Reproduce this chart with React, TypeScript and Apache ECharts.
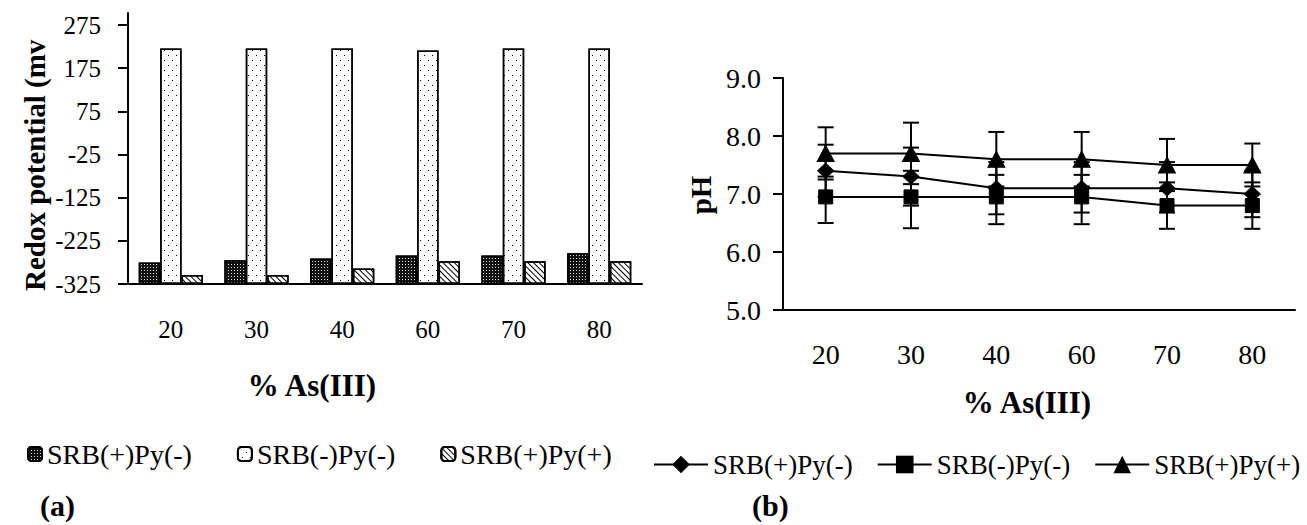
import React, { useEffect, useRef } from "react";
import * as echarts from "echarts";

// ---------- data ----------
const categories = ["20", "30", "40", "60", "70", "80"];
const seriesNames = ["SRB(+)Py(-)", "SRB(-)Py(-)", "SRB(+)Py(+)"];

// (a) Redox potential (mV)
const redoxBase = -325;
const redoxTicks = [-325, -225, -125, -25, 75, 175, 275];
const redoxSrbPosPyNeg = [-275, -270, -266, -259, -259, -254];
const redoxSrbNegPyNeg = [221, 221, 221, 216, 221, 221];
const redoxSrbPosPyPos = [-304, -304, -289, -272, -272, -272];

// (b) pH with error bars (low / high ends)
const phSrbPosPyNeg = [7.4, 7.3, 7.1, 7.1, 7.1, 7.0];
const phSrbPosPyNegLow = [6.95, 6.8, 6.65, 6.68, 6.68, 6.6];
const phSrbPosPyNegHigh = [7.85, 7.8, 7.55, 7.55, 7.55, 7.4];
const phSrbNegPyNeg = [6.95, 6.95, 6.95, 6.95, 6.8, 6.8];
const phSrbNegPyNegLow = [6.5, 6.41, 6.48, 6.48, 6.4, 6.4];
const phSrbNegPyNegHigh = [7.3, 7.4, 7.33, 7.33, 7.2, 7.2];
const phSrbPosPyPos = [7.7, 7.7, 7.6, 7.6, 7.5, 7.5];
const phSrbPosPyPosLow = [7.25, 7.17, 7.13, 7.13, 7.05, 7.13];
const phSrbPosPyPosHigh = [8.15, 8.23, 8.07, 8.07, 7.95, 7.87];

const FONT = '"Liberation Serif", "Times New Roman", serif';
const BLACK = "#000";

function buildOption() {
  const shift = (arr: number[]) => arr.map((v) => v - redoxBase);
  const errData: number[][] = [];
  const lows = [phSrbPosPyNegLow, phSrbNegPyNegLow, phSrbPosPyPosLow];
  const highs = [phSrbPosPyNegHigh, phSrbNegPyNegHigh, phSrbPosPyPosHigh];
  lows.forEach((lo, s) => lo.forEach((v, i) => errData.push([i, v, highs[s][i]])));

  const barBorder = { borderColor: BLACK, borderWidth: 1.5 };
  const barStyles = [
    {
      color: "#111",
      ...barBorder,
      decal: { symbol: "rect", symbolSize: 1, color: "rgba(255,255,255,0.85)", dashArrayX: [1, 2], dashArrayY: [1, 2] },
    },
    {
      color: "#fff",
      ...barBorder,
      decal: { symbol: "rect", symbolSize: 1, color: BLACK, dashArrayX: [[1, 7], [0, 4, 1, 3]], dashArrayY: [1, 4] },
    },
    {
      color: "#fff",
      ...barBorder,
      decal: { symbol: "rect", symbolSize: 1, color: BLACK, dashArrayX: [1, 0], dashArrayY: [1, 2.5], rotation: Math.PI / 4 },
    },
  ];
  const barValues = [redoxSrbPosPyNeg, redoxSrbNegPyNeg, redoxSrbPosPyPos];

  const lineValues = [phSrbPosPyNeg, phSrbNegPyNeg, phSrbPosPyPos];
  const lineSymbols = ["diamond", "rect", "triangle"];
  const lineSymbolSizes = [[16, 15], [14, 14], [17, 16]];

  const axisLineStyle = { color: BLACK, width: 2 };
  const tickStyle = { color: BLACK, width: 2 };

  return {
    animation: false,
    backgroundColor: "#fff",
    grid: [
      { left: 128, top: 13, width: 514, height: 271 },
      { left: 783, top: 78, width: 512, height: 232 },
    ],
    xAxis: [
      {
        gridIndex: 0, type: "category", data: categories, position: "bottom",
        axisLine: { lineStyle: axisLineStyle },
        axisTick: { length: 10, lineStyle: tickStyle },
        axisLabel: { margin: 33, fontSize: 25, color: BLACK, fontFamily: FONT },
        splitLine: { show: false },
      },
      {
        gridIndex: 0, type: "category", data: categories, position: "bottom",
        axisLine: { show: false },
        axisTick: { alignWithLabel: true, length: 7, lineStyle: tickStyle },
        axisLabel: { show: false },
      },
      {
        gridIndex: 1, type: "category", data: categories, position: "bottom",
        axisLine: { lineStyle: axisLineStyle },
        axisTick: { length: 9, lineStyle: tickStyle },
        axisLabel: { margin: 30, fontSize: 28, color: BLACK, fontFamily: FONT },
        splitLine: { show: false },
      },
      {
        gridIndex: 1, type: "category", data: categories, position: "bottom",
        axisLine: { show: false },
        axisTick: { alignWithLabel: true, length: 9, lineStyle: tickStyle },
        axisLabel: { show: false },
      },
    ],
    yAxis: [
      {
        gridIndex: 0, type: "value", min: 0, max: 628,
        axisLine: { show: true, lineStyle: axisLineStyle },
        axisTick: { show: true, length: 10, lineStyle: tickStyle, customValues: shift(redoxTicks) },
        axisLabel: {
          customValues: shift(redoxTicks),
          formatter: (v: number) => String(Math.round(v + redoxBase)),
          margin: 27, fontSize: 25, color: BLACK, fontFamily: FONT,
        },
        splitLine: { show: false },
      },
      {
        gridIndex: 1, type: "value", min: 5, max: 9, interval: 1,
        axisLine: { show: true, lineStyle: axisLineStyle },
        axisTick: { show: true, length: 10, lineStyle: tickStyle },
        axisLabel: {
          formatter: (v: number) => v.toFixed(1),
          margin: 22, fontSize: 28, color: BLACK, fontFamily: FONT,
        },
        splitLine: { show: false },
      },
    ],
    legend: [
      {
        data: seriesNames.map((n) => "bar:" + n),
        formatter: (n: string) => n.replace(/^bar:/, ""),
        left: 22, top: 435, width: 620, itemWidth: 14, itemHeight: 14, itemGap: 45,
        textStyle: { fontSize: 28, fontFamily: FONT, color: BLACK },
        selectedMode: false,
      },
      {
        data: seriesNames.map((n) => "line:" + n),
        formatter: (n: string) => n.replace(/^line:/, ""),
        left: 648, top: 446, width: 680, itemWidth: 54, itemHeight: 22, itemGap: 24,
        textStyle: { fontSize: 27, fontFamily: FONT, color: BLACK },
        selectedMode: false,
      },
    ],
    series: [
      ...barValues.map((vals, i) => ({
        type: "bar",
        name: "bar:" + seriesNames[i],
        xAxisIndex: 0, yAxisIndex: 0,
        data: shift(vals),
        barGap: "0%", barCategoryGap: "25%",
        itemStyle: barStyles[i],
      })),
      {
        type: "custom",
        name: "errorBars",
        xAxisIndex: 2, yAxisIndex: 1,
        data: errData,
        encode: { x: 0, y: [1, 2] },
        z: 1,
        renderItem: (_p: any, api: any) => {
          const x = api.value(0);
          const lo = api.coord([x, api.value(1)]);
          const hi = api.coord([x, api.value(2)]);
          const hw = 8;
          const st = { stroke: BLACK, lineWidth: 2 };
          return {
            type: "group",
            children: [
              { type: "line", shape: { x1: lo[0], y1: lo[1], x2: hi[0], y2: hi[1] }, style: st },
              { type: "line", shape: { x1: hi[0] - hw, y1: hi[1], x2: hi[0] + hw, y2: hi[1] }, style: st },
              { type: "line", shape: { x1: lo[0] - hw, y1: lo[1], x2: lo[0] + hw, y2: lo[1] }, style: st },
            ],
          };
        },
      },
      ...lineValues.map((vals, i) => ({
        type: "line",
        name: "line:" + seriesNames[i],
        xAxisIndex: 2, yAxisIndex: 1,
        data: vals,
        symbol: lineSymbols[i],
        symbolSize: lineSymbolSizes[i],
        showAllSymbol: true,
        z: 3,
        lineStyle: { color: BLACK, width: 2 },
        itemStyle: { color: BLACK, borderColor: BLACK },
      })),
    ],
    graphic: [
      {
        type: "text", x: 35, y: 291, rotation: Math.PI / 2,
        style: { text: "Redox potential (mv", fontSize: 29, fontWeight: "bold", fontFamily: FONT, fill: BLACK, textAlign: "left", textVerticalAlign: "middle" },
      },
      {
        type: "text", x: 701, y: 195, rotation: Math.PI / 2,
        style: { text: "pH", fontSize: 29, fontWeight: "bold", fontFamily: FONT, fill: BLACK, textAlign: "center", textVerticalAlign: "middle" },
      },
      {
        type: "text", x: 312, y: 385,
        style: { text: "% As(III)", fontSize: 31, fontWeight: "bold", fontFamily: FONT, fill: BLACK, textAlign: "center", textVerticalAlign: "middle" },
      },
      {
        type: "text", x: 1027, y: 402,
        style: { text: "% As(III)", fontSize: 31, fontWeight: "bold", fontFamily: FONT, fill: BLACK, textAlign: "center", textVerticalAlign: "middle" },
      },
      {
        type: "text", x: 40, y: 505,
        style: { text: "(a)", fontSize: 30, fontWeight: "bold", fontFamily: FONT, fill: BLACK, textAlign: "left", textVerticalAlign: "middle" },
      },
      {
        type: "text", x: 752, y: 505,
        style: { text: "(b)", fontSize: 30, fontWeight: "bold", fontFamily: FONT, fill: BLACK, textAlign: "left", textVerticalAlign: "middle" },
      },
    ],
  };
}

export default function App() {
  const ref = useRef<HTMLDivElement>(null);
  useEffect(() => {
    if (!ref.current) return;
    const chart = echarts.init(ref.current, null, { renderer: "svg" });
    chart.setOption(buildOption() as any);
    return () => chart.dispose();
  }, []);
  return (
    <div
      ref={ref}
      style={{ position: "absolute", left: 0, top: 0, width: 1307, height: 525, background: "#fff" }}
    />
  );
}
